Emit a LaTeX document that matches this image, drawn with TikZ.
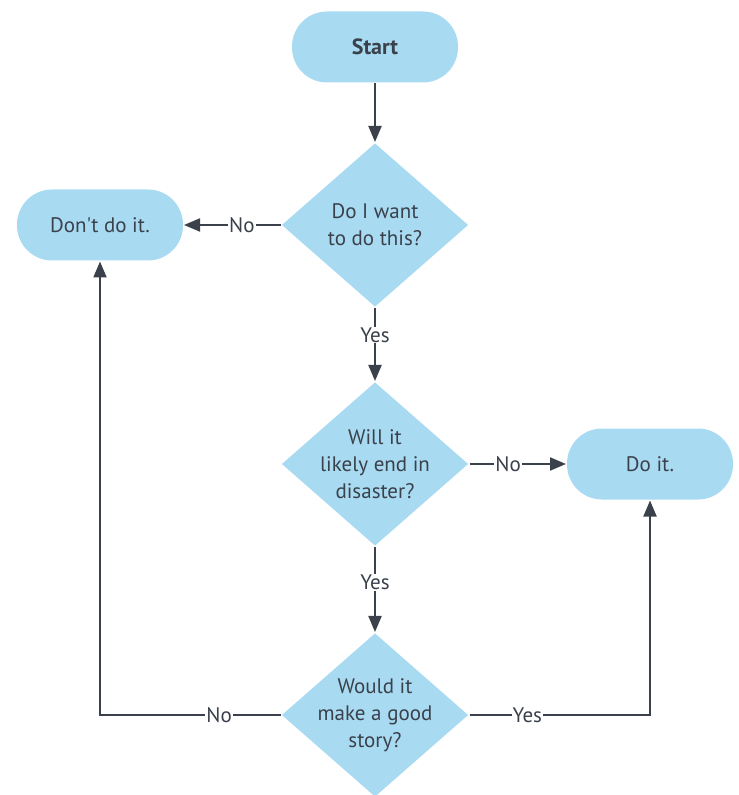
\documentclass[tikz,border=0pt]{standalone}
\usepackage{fontspec}
\setmainfont{PT Sans}
\usetikzlibrary{shapes.geometric,arrows.meta}
\definecolor{boxblue}{RGB}{168,218,241}
\definecolor{inkgray}{RGB}{58,65,75}

\begin{document}
\begin{tikzpicture}[x=0.5pt,y=-0.5pt,
    line width=1pt,draw=inkgray,text=inkgray,font=\fontsize{10.5}{13.5}\selectfont,
    term/.style={fill=boxblue,rounded corners=17.5pt,minimum width=83pt,minimum height=35.5pt,inner sep=0pt},
    ask/.style={diamond,fill=boxblue,minimum width=93.5pt,minimum height=82pt,inner sep=-12pt,align=center},
    flow/.style={-{Triangle[length=8pt,width=6.5pt]}},
    lbl/.style={fill=white,inner sep=0.5pt,font=\fontsize{10.5}{12}\selectfont}]
  \useasboundingbox (0,0) rectangle (738,795);

  \node[term,font=\fontsize{11}{13}\selectfont\bfseries] (start) at (375,47) {Start};
  \node[ask] (want) at (375,225) {Do I want\\to do this?};
  \node[term] (dont) at (100,225) {Don\textquotesingle t do it.};
  \node[ask] (disaster) at (375,464) {Will it\\likely end in\\disaster?};
  \node[term] (doit) at (650,464) {Do it.};
  \node[ask] (story) at (375,715) {Would it\\make a good\\story?};

  \draw[flow,draw=inkgray] (start) -- (want);
  \draw[flow,draw=inkgray] (want) -- node[lbl,pos=0.4] {No} (dont);
  \draw[flow,draw=inkgray] (want) -- node[lbl,pos=0.37] {Yes} (disaster);
  \draw[flow,draw=inkgray] (disaster) -- node[lbl,pos=0.4] {No} (doit);
  \draw[flow,draw=inkgray] (disaster) -- node[lbl,pos=0.42] {Yes} (story);
  \draw[flow,draw=inkgray] (story) -| node[lbl,pos=0.17] {No} (dont);
  \draw[flow,draw=inkgray] (story) -| node[lbl,pos=0.16] {Yes} (doit);
\end{tikzpicture}
\end{document}
